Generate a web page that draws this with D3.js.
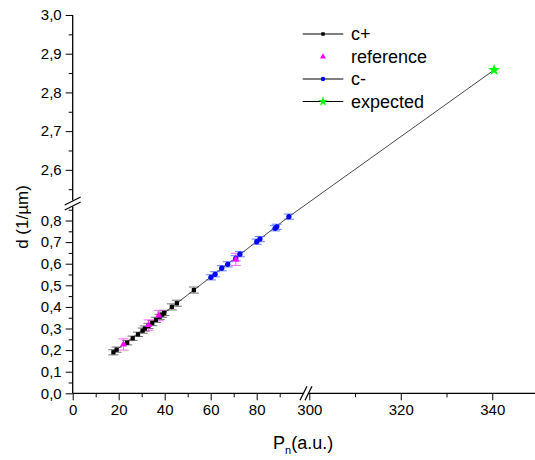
<!DOCTYPE html>
<html>
<head>
<meta charset="utf-8">
<script src="https://cdn.jsdelivr.net/npm/d3@7"></script>
<style>
  body { margin: 0; background: #fff; }
  svg { display: block; font-family: Arial, 'Liberation Sans', sans-serif; }
</style>
</head>
<body>
<svg id="chart"></svg>
<script>
'use strict';

// c+ series (black squares)
var cPlusP = [17.7, 19.1, 23.7, 26.1, 28.4, 30.4, 31.4, 32.9, 34.6, 36.2, 37.8, 38.9, 39.8, 43.1, 45.3, 52.7];
var cPlusD = [0.190, 0.202, 0.234, 0.255, 0.273, 0.290, 0.300, 0.312, 0.325, 0.340, 0.354, 0.364, 0.372, 0.400, 0.417, 0.478];
var cPlusErr = [0.012, 0.012, 0.010, 0.010, 0.010, 0.012, 0.012, 0.012, 0.012, 0.012, 0.012, 0.012, 0.012, 0.014, 0.014, 0.014];

// reference series (magenta triangles)
var refP = [22.1, 33.0, 37.4, 70.9];
var refD = [0.226, 0.316, 0.360, 0.620];
var refErr = [0.026, 0.024, 0.024, 0.028];

// c- series (blue circles)
var cMinusP = [60.1, 61.9, 64.8, 67.4, 70.9, 72.7, 80.0, 81.4, 88.0, 88.7, 94.0];
var cMinusD = [0.537, 0.551, 0.579, 0.597, 0.625, 0.644, 0.702, 0.714, 0.764, 0.771, 0.818];
var cMinusErr = [0.012, 0.012, 0.012, 0.012, 0.012, 0.012, 0.012, 0.012, 0.012, 0.012, 0.012];

// expected (green star)
var expP = [340.4];
var expD = [2.858];

// straight line through the data up to the expected value
var lineP = [17.7, 94.0, 340.4];
var lineD = [0.190, 0.818, 2.858];

var xTicksLow = [0, 20, 40, 60, 80];
var xTicksHigh = [300, 320, 340];
var yTicksLow = [0, 0.1, 0.2, 0.3, 0.4, 0.5, 0.6, 0.7, 0.8];
var yTicksHigh = [2.6, 2.7, 2.8, 2.9, 3.0];

var legendNames = ['c+', 'reference', 'c-', 'expected'];

var width = 535, height = 460;
var svg = d3.select('#chart').attr('width', width).attr('height', height);

// broken axes: two linear pieces on each axis
var xLow = d3.scaleLinear().domain([0, 100]).range([72.7, 302.7]);
var xHigh = d3.scaleLinear().domain([300, 350]).range([309.3, 538]);
var yLow = d3.scaleLinear().domain([0, 0.87]).range([393.3, 205.4]);
var yHigh = d3.scaleLinear().domain([2.52, 3.0]).range([200.8, 15]);

function px(v) { return v <= 200 ? xLow(v) : xHigh(v); }
function py(v) { return v <= 1.5 ? yLow(v) : yHigh(v); }

var commaFmt = function (d) { return d3.format('.1f')(d).replace('.', ','); };

var x0 = 72.7, y0 = 393.3;

// y axis pieces
function yAxis(scale, ticks, minors) {
    svg.append('g').attr('transform', 'translate(' + x0 + ',0)')
        .call(d3.axisLeft(scale).tickValues(ticks).tickFormat(commaFmt).tickSize(7).tickSizeOuter(0).tickPadding(4))
        .call(function (g) { g.select('.domain').remove(); })
        .call(function (g) { g.selectAll('text').attr('font-size', 15).attr('fill', '#000'); });
    svg.append('g').attr('transform', 'translate(' + x0 + ',0)')
        .call(d3.axisLeft(scale).tickValues(minors).tickFormat('').tickSize(4).tickSizeOuter(0))
        .call(function (g) { g.select('.domain').remove(); });
}
yAxis(yHigh, yTicksHigh, [2.55, 2.65, 2.75, 2.85, 2.95]);
yAxis(yLow, yTicksLow, [0.05, 0.15, 0.25, 0.35, 0.45, 0.55, 0.65, 0.75, 0.85]);

function xAxis(scale, ticks, minors) {
    svg.append('g').attr('transform', 'translate(0,' + y0 + ')')
        .call(d3.axisBottom(scale).tickValues(ticks).tickFormat(d3.format('d')).tickSize(7).tickSizeOuter(0).tickPadding(4))
        .call(function (g) { g.select('.domain').remove(); })
        .call(function (g) { g.selectAll('text').attr('font-size', 15).attr('fill', '#000'); });
    svg.append('g').attr('transform', 'translate(0,' + y0 + ')')
        .call(d3.axisBottom(scale).tickValues(minors).tickFormat('').tickSize(4).tickSizeOuter(0))
        .call(function (g) { g.select('.domain').remove(); });
}
xAxis(xLow, xTicksLow, [10, 30, 50, 70, 90]);
xAxis(xHigh, xTicksHigh, [310, 330]);

// axis lines
svg.append('line').attr('x1', x0).attr('x2', x0).attr('y1', 15).attr('y2', y0)
    .attr('stroke', '#000').attr('stroke-width', 1.3);
svg.append('line').attr('x1', x0).attr('x2', width).attr('y1', y0).attr('y2', y0)
    .attr('stroke', '#000').attr('stroke-width', 1.3);

// break marks
function breakMarks(cx, cy, horiz) {
    var g = svg.append('g');
    if (horiz) {
        g.append('rect').attr('x', cx - 3).attr('y', cy - 2).attr('width', 6).attr('height', 4).attr('fill', '#fff');
    } else {
        g.append('rect').attr('x', cx - 2).attr('y', cy - 3).attr('width', 4).attr('height', 6).attr('fill', '#fff');
    }
    [-2.5, 2.5].forEach(function (o) {
        if (horiz) {
            g.append('line').attr('x1', cx + o - 3.5).attr('y1', cy + 7).attr('x2', cx + o + 3.5).attr('y2', cy - 7)
                .attr('stroke', '#000').attr('stroke-width', 1.2);
        } else {
            g.append('line').attr('x1', cx - 8).attr('y1', cy + o + 4).attr('x2', cx + 8).attr('y2', cy + o - 4)
                .attr('stroke', '#000').attr('stroke-width', 1.2);
        }
    });
}
breakMarks(306, y0, true);
breakMarks(x0, 203.5, false);

// fit line
var lineGen = d3.line().x(function (d) { return px(d[0]); }).y(function (d) { return py(d[1]); });
svg.append('path').datum(d3.zip(lineP, lineD)).attr('d', lineGen)
    .attr('fill', 'none').attr('stroke', '#333').attr('stroke-width', 0.9);

// error bars
function errorBars(P, D, E, color) {
    var data = d3.zip(P, D, E);
    var g = svg.append('g').attr('stroke', color).attr('stroke-width', 1).attr('opacity', 0.75);
    data.forEach(function (d) {
        var x = px(d[0]), yt = py(d[1] + d[2]), yb = py(d[1] - d[2]);
        g.append('line').attr('x1', x).attr('x2', x).attr('y1', yt).attr('y2', yb);
        g.append('line').attr('x1', x - 5).attr('x2', x + 5).attr('y1', yt).attr('y2', yt);
        g.append('line').attr('x1', x - 5).attr('x2', x + 5).attr('y1', yb).attr('y2', yb);
    });
}
errorBars(cPlusP, cPlusD, cPlusErr, '#444');
errorBars(cMinusP, cMinusD, cMinusErr, '#3355ff');
errorBars(refP, refD, refErr, '#ff33ff');

var sq = d3.symbol().type(d3.symbolSquare).size(18);
var tri = d3.symbol().type(d3.symbolTriangle).size(22);
var circ = d3.symbol().type(d3.symbolCircle).size(22);
var star = d3.symbol().type(d3.symbolStar).size(45);

function markers(P, D, sym, color) {
    svg.append('g').selectAll('path').data(d3.zip(P, D)).enter().append('path')
        .attr('d', sym)
        .attr('transform', function (d) { return 'translate(' + px(d[0]) + ',' + py(d[1]) + ')'; })
        .attr('fill', color);
}
markers(cPlusP, cPlusD, sq, '#000');
markers(cMinusP, cMinusD, circ, '#0000ff');
markers(refP, refD, tri, '#ff00ff');
markers(expP, expD, star, '#00ff00');

// legend
var legendY = [34, 56.7, 79, 101.5];
var legendSyms = [
    d3.symbol().type(d3.symbolSquare).size(12),
    d3.symbol().type(d3.symbolTriangle).size(16),
    d3.symbol().type(d3.symbolCircle).size(16),
    d3.symbol().type(d3.symbolStar).size(30)
];
var legendColors = ['#000', '#ff00ff', '#0000ff', '#00ff00'];
var legendLines = [true, false, true, true];
legendNames.forEach(function (name, i) {
    var g = svg.append('g').attr('transform', 'translate(0,' + legendY[i] + ')');
    if (legendLines[i]) {
        g.append('line').attr('x1', 302.7).attr('x2', 343.3).attr('y1', 0).attr('y2', 0)
            .attr('stroke', '#000').attr('stroke-width', 1);
    }
    g.append('path').attr('d', legendSyms[i]).attr('transform', 'translate(323,0)').attr('fill', legendColors[i]);
    g.append('text').attr('x', 351).attr('y', 6).attr('font-size', 18).text(name);
});

// axis titles
svg.append('text')
    .attr('transform', 'translate(28,217) rotate(-90)')
    .attr('text-anchor', 'middle')
    .attr('font-size', 17)
    .text('d (1/\u00b5m)');

var xt = svg.append('text').attr('x', 273).attr('y', 449).attr('font-size', 18);
xt.append('tspan').text('P');
xt.append('tspan').attr('font-size', 11).attr('dy', 5).text('n');
xt.append('tspan').attr('dy', -5).text('(a.u.)');
</script>
</body>
</html>
